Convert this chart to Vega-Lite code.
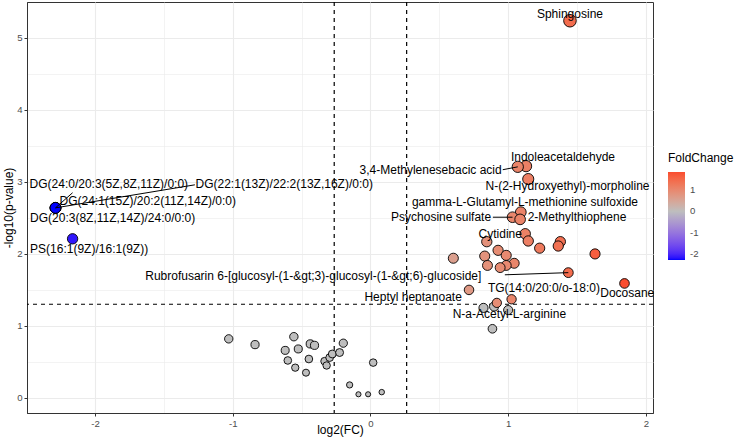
{
  "$schema": "https://vega.github.io/schema/vega-lite/v6.json",
  "width": 626,
  "height": 411,
  "autosize": "none",
  "padding": {"left": 27, "top": 2, "right": 83, "bottom": 27},
  "background": "white",
  "config": {
    "font": "Liberation Sans",
    "view": {"stroke": "#333333", "strokeWidth": 1}
  },
  "datasets": {
    "pts": [
      {"name": "Sphingosine", "fc": 1.449, "lp": 5.24, "sig": true},
      {"name": "Indoleacetaldehyde", "fc": 1.13, "lp": 3.22, "sig": true},
      {"name": "3,4-Methylenesebacic acid", "fc": 1.07, "lp": 3.21, "sig": true},
      {"name": "N-(2-Hydroxyethyl)-morpholine", "fc": 1.146, "lp": 3.04, "sig": true},
      {"name": "gamma-L-Glutamyl-L-methionine sulfoxide", "fc": 1.092, "lp": 2.58, "sig": true},
      {"name": "Psychosine sulfate", "fc": 1.032, "lp": 2.51, "sig": true},
      {"name": "2-Methylthiophene", "fc": 1.087, "lp": 2.48, "sig": true},
      {"name": "Cytidine", "fc": 1.124, "lp": 2.28, "sig": true},
      {"name": "m09", "fc": 1.146, "lp": 2.18, "sig": true},
      {"name": "m10", "fc": 0.845, "lp": 2.17, "sig": true},
      {"name": "m11", "fc": 1.379, "lp": 2.17, "sig": true},
      {"name": "m12", "fc": 1.364, "lp": 2.11, "sig": true},
      {"name": "m13", "fc": 1.229, "lp": 2.08, "sig": true},
      {"name": "m14", "fc": 0.927, "lp": 2.05, "sig": true},
      {"name": "m15", "fc": 1.631, "lp": 2.0, "sig": true},
      {"name": "m16", "fc": 0.602, "lp": 1.94, "sig": true},
      {"name": "m17", "fc": 0.83, "lp": 1.97, "sig": true},
      {"name": "m18", "fc": 0.986, "lp": 1.98, "sig": true},
      {"name": "m19", "fc": 0.85, "lp": 1.84, "sig": true},
      {"name": "m20", "fc": 1.044, "lp": 1.87, "sig": true},
      {"name": "m21", "fc": 0.986, "lp": 1.84, "sig": true},
      {"name": "m22", "fc": 0.942, "lp": 1.81, "sig": true},
      {"name": "Rubrofusarin 6-[glucosyl-(1-&gt;3)-glucosyl-(1-&gt;6)-glucoside]", "fc": 1.437, "lp": 1.74, "sig": true},
      {"name": "Docosane", "fc": 1.845, "lp": 1.59, "sig": true},
      {"name": "TG(14:0/20:0/o-18:0)", "fc": 0.716, "lp": 1.5, "sig": true},
      {"name": "N-a-Acetyl-L-arginine", "fc": 1.025, "lp": 1.37, "sig": true},
      {"name": "Heptyl heptanoate", "fc": 0.918, "lp": 1.32, "sig": true},
      {"name": "DG(24:0/20:3(5Z,8Z,11Z)/0:0)", "fc": -2.287, "lp": 2.64, "sig": true},
      {"name": "DG(22:1(13Z)/22:2(13Z,16Z)/0:0)", "fc": -2.287, "lp": 2.64, "sig": true},
      {"name": "DG(24:1(15Z)/20:2(11Z,14Z)/0:0)", "fc": -2.287, "lp": 2.64, "sig": true},
      {"name": "DG(20:3(8Z,11Z,14Z)/24:0/0:0)", "fc": -2.287, "lp": 2.64, "sig": true},
      {"name": "PS(16:1(9Z)/16:1(9Z))", "fc": -2.163, "lp": 2.21, "sig": true},
      {"name": "n01", "fc": -1.029, "lp": 0.82, "sig": false},
      {"name": "n02", "fc": -0.838, "lp": 0.74, "sig": false},
      {"name": "n03", "fc": -0.556, "lp": 0.85, "sig": false},
      {"name": "n04", "fc": -0.619, "lp": 0.66, "sig": false},
      {"name": "n05", "fc": -0.524, "lp": 0.68, "sig": false},
      {"name": "n06", "fc": -0.437, "lp": 0.75, "sig": false},
      {"name": "n07", "fc": -0.406, "lp": 0.73, "sig": false},
      {"name": "n08", "fc": -0.6, "lp": 0.52, "sig": false},
      {"name": "n09", "fc": -0.447, "lp": 0.54, "sig": false},
      {"name": "n10", "fc": -0.546, "lp": 0.42, "sig": false},
      {"name": "n11", "fc": -0.468, "lp": 0.35, "sig": false},
      {"name": "n12", "fc": -0.333, "lp": 0.51, "sig": false},
      {"name": "n13", "fc": -0.318, "lp": 0.45, "sig": false},
      {"name": "n14", "fc": -0.296, "lp": 0.56, "sig": false},
      {"name": "n15", "fc": -0.277, "lp": 0.61, "sig": false},
      {"name": "n16", "fc": -0.224, "lp": 0.63, "sig": false},
      {"name": "n17", "fc": -0.197, "lp": 0.76, "sig": false},
      {"name": "n18", "fc": 0.02, "lp": 0.49, "sig": false},
      {"name": "n19", "fc": -0.151, "lp": 0.18, "sig": false},
      {"name": "n20", "fc": -0.087, "lp": 0.05, "sig": false},
      {"name": "n21", "fc": -0.017, "lp": 0.05, "sig": false},
      {"name": "n22", "fc": 0.082, "lp": 0.08, "sig": false},
      {"name": "n23", "fc": 0.821, "lp": 1.25, "sig": false},
      {"name": "n24", "fc": 0.898, "lp": 1.27, "sig": false},
      {"name": "n25", "fc": 1.0, "lp": 1.22, "sig": false},
      {"name": "n26", "fc": 0.886, "lp": 0.96, "sig": false}
    ],
    "labels": [
      {"label": "Sphingosine", "lx": 1.449, "ly": 5.33},
      {"label": "Indoleacetaldehyde", "lx": 1.398, "ly": 3.35},
      {"label": "3,4-Methylenesebacic acid", "lx": 0.437, "ly": 3.17},
      {"label": "N-(2-Hydroxyethyl)-morpholine", "lx": 1.431, "ly": 2.94},
      {"label": "gamma-L-Glutamyl-L-methionine sulfoxide", "lx": 1.122, "ly": 2.72},
      {"label": "Psychosine sulfate", "lx": 0.513, "ly": 2.51},
      {"label": "2-Methylthiophene", "lx": 1.5, "ly": 2.51},
      {"label": "Cytidine", "lx": 0.943, "ly": 2.28},
      {"label": "Rubrofusarin 6-[glucosyl-(1-&gt;3)-glucosyl-(1-&gt;6)-glucoside]", "lx": -0.415, "ly": 1.69},
      {"label": "Docosane", "lx": 1.865, "ly": 1.46},
      {"label": "Heptyl heptanoate", "lx": 0.31, "ly": 1.4},
      {"label": "TG(14:0/20:0/o-18:0)", "lx": 1.26, "ly": 1.53},
      {"label": "N-a-Acetyl-L-arginine", "lx": 1.009, "ly": 1.17},
      {"label": "DG(24:0/20:3(5Z,8Z,11Z)/0:0)", "lx": -1.9, "ly": 2.97},
      {"label": "DG(22:1(13Z)/22:2(13Z,16Z)/0:0)", "lx": -0.626, "ly": 2.97},
      {"label": "DG(24:1(15Z)/20:2(11Z,14Z)/0:0)", "lx": -1.617, "ly": 2.73},
      {"label": "DG(20:3(8Z,11Z,14Z)/24:0/0:0)", "lx": -1.872, "ly": 2.5},
      {"label": "PS(16:1(9Z)/16:1(9Z))", "lx": -2.043, "ly": 2.07}
    ],
    "segs": [
      {"x1": 1.07, "y1": 3.21, "x2": 0.961, "y2": 3.17},
      {"x1": 1.032, "y1": 2.51, "x2": 0.889, "y2": 2.51},
      {"x1": 1.437, "y1": 1.74, "x2": 0.976, "y2": 1.71},
      {"x1": -2.287, "y1": 2.64, "x2": -2.163, "y2": 2.85},
      {"x1": -2.287, "y1": 2.64, "x2": -1.275, "y2": 2.96}
    ],
    "vlines": [{"v": -0.263}, {"v": 0.263}],
    "hlines": [{"h": 1.301}]
  },
  "layer": [
    {
      "data": {"name": "vlines"},
      "mark": {"type": "rule", "color": "black", "strokeDash": [4, 4], "strokeWidth": 1.2},
      "encoding": {
        "x": {
          "field": "v", "type": "quantitative",
          "scale": {"domain": [-2.494, 2.052], "nice": false, "zero": false},
          "axis": {
            "title": "log2(FC)",
            "values": [-2, -1.5, -1, -0.5, 0, 0.5, 1, 1.5, 2],
            "labelExpr": "datum.value % 1 === 0 ? '' + datum.value : ''",
            "grid": true,
            "gridColor": "#EBEBEB",
            "gridWidth": {"condition": {"test": "datum.value % 1 !== 0", "value": 0.6}, "value": 1.1},
            "tickOpacity": {"condition": {"test": "datum.value % 1 !== 0", "value": 0}, "value": 1},
            "tickColor": "#333333",
            "tickSize": 3,
            "domainColor": "#333333",
            "labelColor": "#4D4D4D",
            "labelFontSize": 9.6,
            "labelPadding": 2,
            "titleFontSize": 12,
            "titleFontWeight": "normal",
            "titleColor": "black",
            "titleY": 16,
            "titleBaseline": "middle"
          }
        }
      }
    },
    {
      "data": {"name": "hlines"},
      "mark": {"type": "rule", "color": "black", "strokeDash": [4, 4], "strokeWidth": 1.2},
      "encoding": {
        "y": {
          "field": "h", "type": "quantitative",
          "scale": {"domain": [-0.21, 5.5], "nice": false, "zero": false},
          "axis": {
            "title": "-log10(p-value)",
            "values": [0, 0.5, 1, 1.5, 2, 2.5, 3, 3.5, 4, 4.5, 5],
            "labelExpr": "datum.value % 1 === 0 ? '' + datum.value : ''",
            "grid": true,
            "gridColor": "#EBEBEB",
            "gridWidth": {"condition": {"test": "datum.value % 1 !== 0", "value": 0.6}, "value": 1.1},
            "tickOpacity": {"condition": {"test": "datum.value % 1 !== 0", "value": 0}, "value": 1},
            "tickColor": "#333333",
            "tickSize": 3,
            "domainColor": "#333333",
            "labelColor": "#4D4D4D",
            "labelFontSize": 9.6,
            "labelPadding": 2,
            "titleFontSize": 12,
            "titleFontWeight": "normal",
            "titleColor": "black",
            "titleX": -19,
            "titleBaseline": "middle"
          }
        }
      }
    },
    {
      "data": {"name": "pts"},
      "transform": [{"filter": "!datum.sig"}],
      "mark": {"type": "point", "shape": "circle", "filled": true, "fill": "#BEBEBE", "stroke": "black", "strokeWidth": 0.9, "opacity": 1},
      "encoding": {
        "x": {"field": "fc", "type": "quantitative"},
        "y": {"field": "lp", "type": "quantitative"},
        "size": {"field": "lp", "type": "quantitative", "scale": {"type": "sqrt", "domain": [0, 5.3], "range": [12, 160]}, "legend": null}
      }
    },
    {
      "data": {"name": "pts"},
      "transform": [{"filter": "datum.sig"}],
      "mark": {"type": "point", "shape": "circle", "filled": true, "stroke": "black", "strokeWidth": 0.9, "opacity": 1},
      "encoding": {
        "x": {"field": "fc", "type": "quantitative"},
        "y": {"field": "lp", "type": "quantitative"},
        "size": {"field": "lp", "type": "quantitative", "legend": null},
        "fill": {
          "field": "fc", "type": "quantitative",
          "scale": {"domain": [-2.287, 0, 1.845], "range": ["#0000FF", "#BEBEBE", "#FA4C2E"], "interpolate": "lab"},
          "legend": {
            "title": "FoldChange",
            "orient": "none",
            "legendX": 641,
            "legendY": 151,
            "titleFontSize": 12,
            "titleFontWeight": "normal",
            "titleColor": "black",
            "titlePadding": 7,
            "gradientLength": 88,
            "gradientThickness": 17,
            "gradientStrokeWidth": 0,
            "values": [-2, -1, 0, 1],
            "labelExpr": "'' + datum.value",
            "labelFontSize": 9.6,
            "labelColor": "#4D4D4D",
            "labelOffset": 5
          }
        }
      }
    },
    {
      "data": {"name": "segs"},
      "mark": {"type": "rule", "color": "black", "strokeWidth": 1},
      "encoding": {
        "x": {"field": "x1", "type": "quantitative"},
        "y": {"field": "y1", "type": "quantitative"},
        "x2": {"field": "x2"},
        "y2": {"field": "y2"}
      }
    },
    {
      "data": {"name": "labels"},
      "mark": {"type": "text", "fontSize": 12, "color": "black", "align": "center", "baseline": "middle"},
      "encoding": {
        "x": {"field": "lx", "type": "quantitative"},
        "y": {"field": "ly", "type": "quantitative"},
        "text": {"field": "label"}
      }
    }
  ]
}
